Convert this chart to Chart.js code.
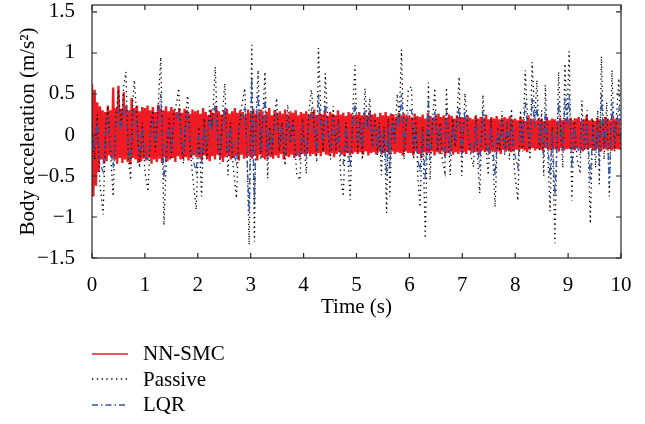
<!DOCTYPE html>
<html>
<head>
<meta charset="utf-8">
<script src="https://cdn.jsdelivr.net/npm/chart.js@4"></script>
<style>
  body { margin: 0; background: #fff; }
  #wrap { position: relative; width: 645px; height: 424px; }
  #legend { position: absolute; left: 92px; top: 341px; font: 21px "Liberation Serif", "Times New Roman", serif; color: #000; }
  #legend .row { display: flex; align-items: center; height: 25.5px; }
  #legend svg { width: 36px; height: 10px; margin-right: 15px; }
</style>
</head>
<body>
<div id="wrap">
  <canvas id="chart" width="645" height="424"></canvas>
  <div id="legend"></div>
</div>
<script>
// NN-SMC, sampled every 0.025 s (one row per second)
const smcAcc = [
  0.62,-0.75,0.55,-0.62,0.40,-0.45,0.35,-0.30,0.30,-0.35,0.28,-0.32,0.36,-0.25,0.30,-0.28,0.58,-0.30,0.33,-0.35,0.60,-0.28,0.32,-0.34,0.52,-0.30,0.35,-0.33,0.30,-0.36,0.45,-0.28,0.33,-0.30,0.36,-0.34,0.29,-0.32,0.34,-0.29,
  0.33,-0.31,0.36,-0.28,0.30,-0.35,0.34,-0.30,0.28,-0.33,0.37,-0.29,0.32,-0.34,0.30,-0.27,0.35,-0.32,0.29,-0.30,0.34,-0.28,0.31,-0.33,0.28,-0.26,0.33,-0.30,0.27,-0.29,0.32,-0.27,0.30,-0.31,0.26,-0.28,0.31,-0.25,0.29,-0.27,
  0.30,-0.27,0.26,-0.31,0.33,-0.25,0.28,-0.29,0.24,-0.32,0.31,-0.26,0.27,-0.30,0.34,-0.24,0.29,-0.28,0.25,-0.33,0.30,-0.27,0.32,-0.25,0.26,-0.30,0.29,-0.28,0.33,-0.26,0.27,-0.31,0.30,-0.24,0.28,-0.29,0.25,-0.27,0.31,-0.26,
  0.27,-0.29,0.32,-0.25,0.26,-0.31,0.29,-0.24,0.31,-0.28,0.25,-0.30,0.28,-0.26,0.33,-0.27,0.24,-0.29,0.30,-0.25,0.27,-0.28,0.29,-0.23,0.26,-0.30,0.31,-0.26,0.25,-0.27,0.29,-0.24,0.27,-0.28,0.30,-0.25,0.24,-0.27,0.28,-0.23,
  0.26,-0.24,0.29,-0.22,0.25,-0.26,0.28,-0.23,0.31,-0.25,0.24,-0.22,0.27,-0.26,0.25,-0.21,0.29,-0.24,0.23,-0.25,0.28,-0.22,0.26,-0.27,0.24,-0.23,0.30,-0.21,0.25,-0.24,0.27,-0.26,0.23,-0.22,0.28,-0.25,0.26,-0.23,0.24,-0.21,
  0.25,-0.23,0.28,-0.21,0.24,-0.24,0.27,-0.20,0.23,-0.25,0.29,-0.22,0.25,-0.21,0.26,-0.24,0.22,-0.20,0.27,-0.23,0.24,-0.22,0.28,-0.21,0.23,-0.24,0.26,-0.20,0.25,-0.23,0.22,-0.21,0.27,-0.22,0.24,-0.25,0.26,-0.20,0.23,-0.22,
  0.24,-0.22,0.21,-0.25,0.26,-0.20,0.23,-0.23,0.22,-0.28,0.25,-0.21,0.20,-0.24,0.27,-0.22,0.23,-0.20,0.21,-0.25,0.24,-0.21,0.26,-0.23,0.22,-0.20,0.24,-0.26,0.21,-0.22,0.25,-0.19,0.23,-0.24,0.20,-0.21,0.24,-0.23,0.22,-0.20,
  0.22,-0.21,0.20,-0.23,0.24,-0.19,0.21,-0.22,0.19,-0.20,0.23,-0.21,0.20,-0.24,0.22,-0.19,0.21,-0.21,0.25,-0.20,0.19,-0.22,0.22,-0.19,0.20,-0.21,0.23,-0.20,0.19,-0.23,0.21,-0.18,0.22,-0.20,0.20,-0.19,0.23,-0.21,0.19,-0.20,
  0.20,-0.18,0.18,-0.20,0.22,-0.17,0.19,-0.19,0.17,-0.21,0.24,-0.18,0.19,-0.16,0.20,-0.19,0.18,-0.17,0.21,-0.18,0.19,-0.20,0.17,-0.16,0.22,-0.18,0.18,-0.19,0.20,-0.17,0.19,-0.18,0.17,-0.20,0.21,-0.16,0.18,-0.19,0.20,-0.17,
  0.19,-0.17,0.21,-0.18,0.18,-0.19,0.20,-0.16,0.22,-0.18,0.17,-0.20,0.19,-0.17,0.24,-0.18,0.18,-0.16,0.20,-0.19,0.17,-0.18,0.21,-0.17,0.19,-0.20,0.18,-0.16,0.22,-0.18,0.20,-0.17,0.18,-0.19,0.21,-0.18,0.19,-0.17,0.20,-0.18
]
const smcTime = smcAcc.map((_, i) => i * 0.025)

// Passive and LQR share one time base
const time = [
  0.00,0.05,0.10,0.15,0.21,0.26,0.30,0.35,0.40,0.45,0.50,0.55,0.60,0.64,0.69,0.73,0.77,0.80,0.85,0.90,0.95,
  1.00,1.06,1.11,1.15,1.20,1.25,1.30,1.36,1.41,1.46,1.50,1.55,1.60,1.64,1.69,1.73,1.78,1.81,1.86,1.91,1.97,
  2.02,2.07,2.12,2.17,2.22,2.27,2.33,2.38,2.42,2.47,2.51,2.57,2.62,2.67,2.73,2.78,2.83,2.89,2.94,2.97,
  3.02,3.07,3.10,3.14,3.19,3.23,3.27,3.32,3.36,3.40,3.45,3.49,3.54,3.59,3.65,3.70,3.75,3.80,3.87,3.93,3.98,
  4.05,4.10,4.15,4.20,4.25,4.28,4.33,4.37,4.41,4.46,4.51,4.56,4.61,4.66,4.70,4.75,4.80,4.84,4.88,4.93,4.97,
  5.02,5.07,5.11,5.16,5.21,5.25,5.30,5.35,5.40,5.43,5.47,5.52,5.57,5.60,5.63,5.68,5.72,5.77,5.81,5.85,5.90,5.94,5.98,
  6.04,6.08,6.12,6.16,6.20,6.25,6.30,6.36,6.39,6.44,6.48,6.53,6.58,6.62,6.67,6.70,6.77,6.82,6.87,6.94,6.99,
  7.05,7.10,7.15,7.21,7.26,7.29,7.33,7.39,7.44,7.49,7.54,7.58,7.62,7.67,7.71,7.75,7.80,7.85,7.89,7.93,7.98,
  8.05,8.10,8.14,8.19,8.24,8.28,8.32,8.37,8.41,8.46,8.50,8.54,8.57,8.62,8.66,8.70,8.75,8.82,8.86,8.90,8.94,8.98,
  9.02,9.07,9.12,9.17,9.23,9.26,9.31,9.36,9.42,9.47,9.52,9.56,9.59,9.63,9.68,9.73,9.78,9.83,9.88,9.92,9.96,10.00
]
const passiveAcc = [
  0.10,-0.30,0.25,-0.60,-0.97,0.10,0.35,-0.20,-0.75,0.20,0.55,0.10,0.60,0.77,-0.30,-0.55,0.40,0.67,0.20,-0.40,0.15,
  -0.45,-0.69,0.10,0.30,-0.20,0.35,0.95,-1.10,-0.20,0.20,-0.30,0.25,0.40,0.57,-0.10,-0.35,0.30,0.48,-0.20,-0.55,-0.91,
  0.10,-0.75,0.20,-0.30,0.35,0.10,0.83,-0.10,-0.35,0.30,0.63,-0.49,0.15,-0.40,-0.77,0.10,0.35,0.57,-0.50,-1.34,
  1.10,-1.30,0.20,0.79,-0.30,0.25,0.77,-0.53,0.10,-0.25,0.20,0.45,-0.20,0.15,-0.37,0.37,-0.10,0.20,-0.47,-0.55,0.20,
  -0.47,0.30,0.55,0.10,-0.33,1.06,0.20,-0.20,0.75,0.10,-0.30,0.35,-0.20,0.20,-0.50,-0.75,0.15,-0.30,-0.79,0.30,0.85,
  -0.20,0.20,-0.30,0.57,0.10,0.45,-0.15,0.20,-0.25,0.15,-0.49,0.10,-0.95,0.20,-0.75,0.25,-0.10,0.50,0.20,1.04,-0.30,0.15,0.55,
  0.59,-0.30,0.20,-0.50,-0.88,0.10,-1.26,0.64,-0.55,0.20,0.57,-0.20,0.15,-0.30,-0.45,0.58,-0.49,0.20,-0.15,0.71,-0.50,
  0.51,0.10,-0.20,-0.39,0.25,-0.30,-0.71,0.49,-0.10,-0.49,0.20,-0.30,-0.88,0.10,-0.20,0.29,-0.25,0.15,-0.30,0.32,-0.40,
  -0.80,0.30,-0.20,0.79,0.10,-0.30,0.89,0.20,0.67,-0.20,0.30,-0.50,0.61,-0.30,-0.93,0.10,-1.32,0.77,0.10,-0.40,0.87,0.20,
  1.02,-0.80,0.20,-0.30,-0.47,0.42,-0.20,0.30,-1.08,0.20,-0.40,0.30,-0.60,0.96,-0.30,0.40,-0.75,0.79,-0.20,0.30,0.69,-0.20
]
const lqrAcc = [
  0.05,-0.20,0.15,-0.35,-0.45,0.05,0.20,-0.15,-0.40,0.10,0.30,0.05,0.30,0.35,-0.20,-0.30,0.25,0.30,0.10,-0.25,0.10,
  -0.25,-0.30,0.05,0.15,-0.10,0.20,0.50,-0.55,-0.10,0.10,-0.20,0.15,0.20,0.30,-0.05,-0.20,0.15,0.25,-0.10,-0.30,-0.45,
  0.05,-0.35,0.10,-0.15,0.20,0.05,0.40,-0.05,-0.20,0.15,0.30,-0.25,0.10,-0.20,-0.35,0.05,0.20,0.35,-0.40,-0.95,
  0.70,-0.85,0.15,0.50,-0.20,0.15,0.45,-0.30,0.05,-0.15,0.10,0.25,-0.10,0.10,-0.20,0.20,-0.05,0.10,-0.25,-0.30,0.10,
  -0.25,0.15,0.30,0.05,-0.20,0.50,0.10,-0.10,0.40,0.05,-0.15,0.20,-0.10,0.10,-0.30,-0.35,0.10,-0.15,-0.40,0.15,0.40,
  -0.10,0.10,-0.15,0.30,0.05,0.25,-0.10,0.10,-0.15,0.10,-0.25,0.05,-0.50,0.10,-0.40,0.15,-0.05,0.25,0.10,0.50,-0.15,0.10,0.30,
  0.30,-0.15,0.10,-0.30,-0.45,0.05,-0.56,0.45,-0.30,0.10,0.30,-0.10,0.10,-0.15,-0.25,0.30,-0.25,0.10,-0.10,0.35,-0.25,
  0.30,0.05,-0.10,-0.20,0.15,-0.15,-0.40,0.30,-0.05,-0.25,0.10,-0.15,-0.50,0.05,-0.10,0.15,-0.15,0.10,-0.15,0.20,-0.20,
  -0.40,0.15,-0.10,0.40,0.05,-0.15,0.45,0.10,0.35,-0.10,0.15,-0.25,0.30,-0.15,-0.50,0.05,-0.75,0.40,0.05,-0.20,0.46,0.10,
  0.50,-0.40,0.10,-0.15,-0.25,0.20,-0.10,0.15,-0.55,0.10,-0.20,0.15,-0.35,0.50,-0.15,0.20,-0.60,0.40,-0.10,0.15,0.35,-0.10
]

const xTicks = [0, 1, 2, 3, 4, 5, 6, 7, 8, 9, 10]
const yTicks = [-1.5, -1, -0.5, 0, 0.5, 1, 1.5]

const toPoints = (xs, ys) => ys.map((y, i) => ({ x: xs[i], y }))
const font = { family: "'Liberation Serif', 'Times New Roman', serif", size: 21 }

// MATLAB style box with inward ticks on all sides
const frame = {
  id: "frame",
  afterDatasetsDraw(chart) {
    const { ctx, chartArea: a, scales: { x, y } } = chart
    ctx.save()
    ctx.strokeStyle = "#262626"
    ctx.lineWidth = 1.2
    ctx.strokeRect(a.left, a.top, a.right - a.left, a.bottom - a.top)
    ctx.beginPath()
    xTicks.forEach((v) => {
      const px = x.getPixelForValue(v)
      ctx.moveTo(px, a.bottom); ctx.lineTo(px, a.bottom - 5)
      ctx.moveTo(px, a.top); ctx.lineTo(px, a.top + 5)
    })
    yTicks.forEach((v) => {
      const py = y.getPixelForValue(v)
      ctx.moveTo(a.left, py); ctx.lineTo(a.left + 5, py)
      ctx.moveTo(a.right, py); ctx.lineTo(a.right - 5, py)
    })
    ctx.stroke()
    ctx.restore()
  },
}

// legend as html rows below the plot
const htmlLegend = {
  id: "htmlLegend",
  afterUpdate(chart) {
    const box = document.getElementById("legend")
    box.innerHTML = ""
    chart.data.datasets.forEach((ds) => {
      const row = document.createElement("div")
      row.className = "row"
      const dash = (ds.borderDash || []).join(" ")
      row.innerHTML = `<svg viewBox="0 0 36 10"><line x1="0" y1="5" x2="36" y2="5" stroke="${ds.borderColor}" stroke-width="1.3" stroke-dasharray="${dash}"/></svg><span>${ds.label}</span>`
      box.appendChild(row)
    })
  },
}

new Chart(document.getElementById("chart"), {
  type: "line",
  data: {
    datasets: [
      {
        label: "NN-SMC",
        data: toPoints(smcTime, smcAcc),
        borderColor: "#ed1c24",
        borderWidth: 2.4,
        order: 3,
      },
      {
        label: "Passive",
        data: toPoints(time, passiveAcc),
        borderColor: "#000000",
        borderWidth: 1.3,
        borderDash: [1.3, 3.5],
        order: 2,
      },
      {
        label: "LQR",
        data: toPoints(time, lqrAcc),
        borderColor: "#2f55a8",
        borderWidth: 1.3,
        borderDash: [6, 3, 1.5, 3],
        order: 1,
      },
    ],
  },
  options: {
    responsive: false,
    animation: false,
    events: [],
    layout: { padding: { left: 0, top: 5, right: 24, bottom: 104 } },
    elements: { point: { radius: 0 }, line: { tension: 0, fill: false } },
    scales: {
      x: {
        type: "linear",
        min: 0,
        max: 10,
        afterBuildTicks: (s) => { s.ticks = xTicks.map((value) => ({ value })) },
        afterFit: (s) => { s.height = 62; s.paddingLeft = 0; s.paddingRight = 0 },
        grid: { display: false },
        border: { display: false },
        ticks: { color: "#000", font, padding: 7, maxRotation: 0 },
        title: { display: true, text: "Time (s)", color: "#000", font, padding: { top: 0, bottom: 0 } },
      },
      y: {
        min: -1.5,
        max: 1.585,
        afterBuildTicks: (s) => { s.ticks = yTicks.map((value) => ({ value })) },
        afterFit: (s) => { s.width = 92; s.paddingTop = 0; s.paddingBottom = 0 },
        grid: { display: false },
        border: { display: false },
        ticks: { color: "#000", font, padding: 9, callback: (v) => String(v).replace("-", "\u2212") },
        title: { display: true, text: "Body acceleration (m/s\u00b2)", color: "#000", font, padding: { top: 16, bottom: 0 } },
      },
    },
    plugins: {
      legend: { display: false },
      tooltip: { enabled: false },
    },
  },
  plugins: [frame, htmlLegend],
})
</script>
</body>
</html>
